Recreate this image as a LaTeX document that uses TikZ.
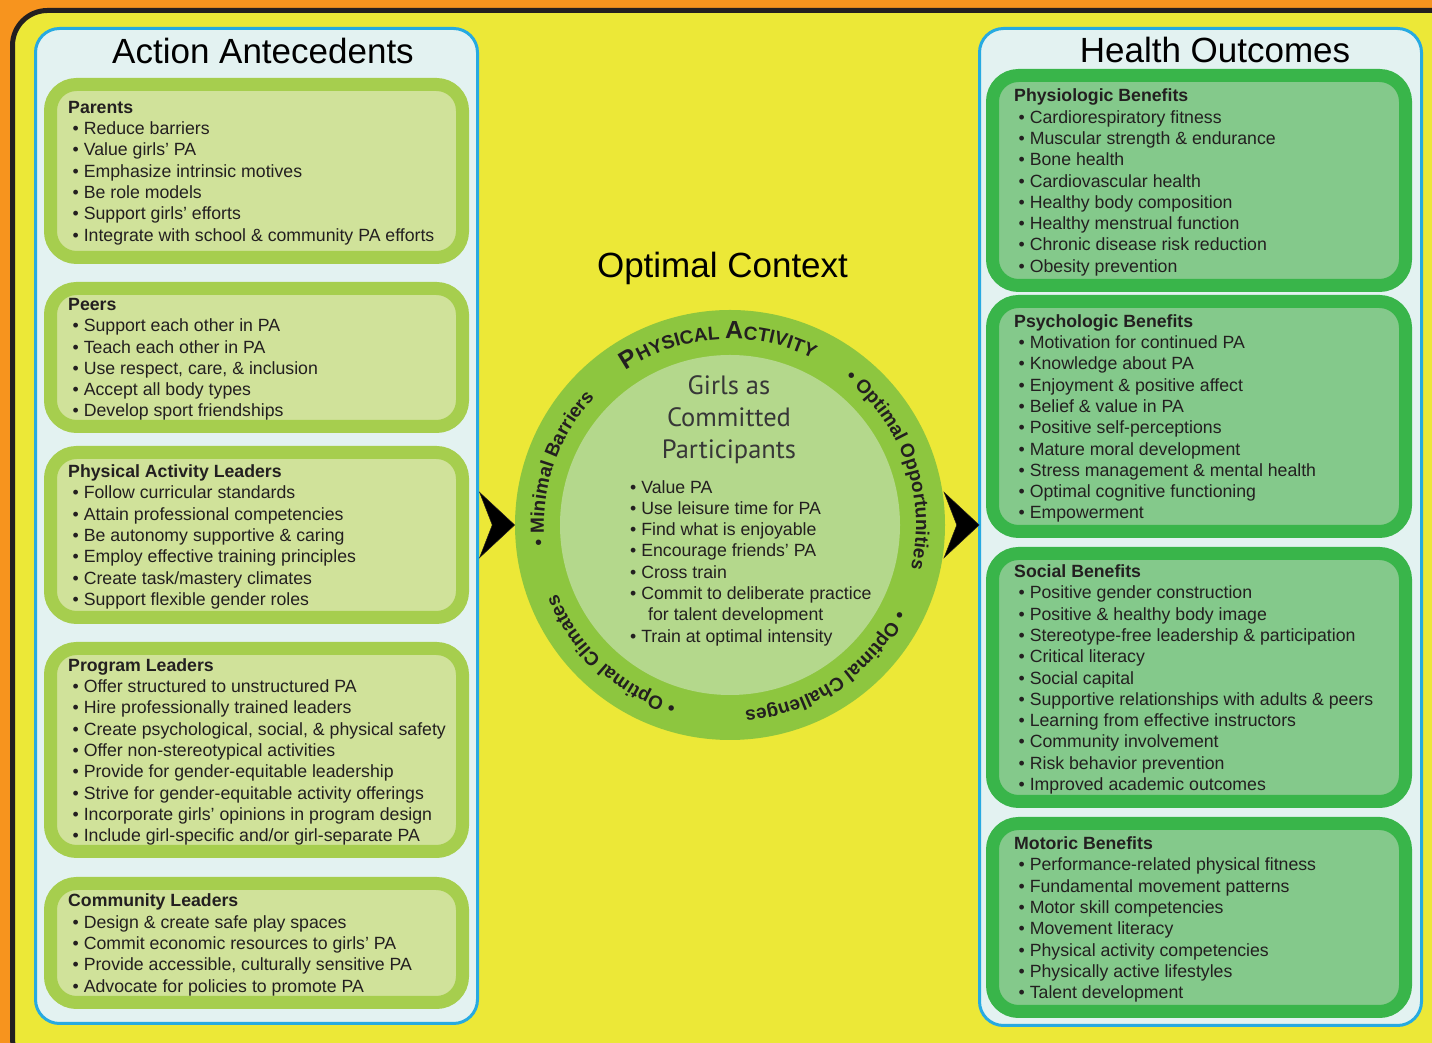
\documentclass[tikz,border=0pt]{standalone}
\usepackage{fontspec}
\setmainfont{Liberation Sans}
\newfontfamily\girlsfont{PT Sans}
\usepackage{tikz}
\usetikzlibrary{positioning}
\usetikzlibrary{arrows.meta}
\usetikzlibrary{decorations.text}
\definecolor{bgorange}{RGB}{247,148,30}
\definecolor{bgyellow}{RGB}{236,232,55}
\definecolor{framedark}{RGB}{35,31,32}
\definecolor{panelfill}{RGB}{227,242,241}
\definecolor{panelline}{RGB}{39,170,225}
\definecolor{limeouter}{RGB}{166,206,78}
\definecolor{limeinner}{RGB}{208,226,154}
\definecolor{greenouter}{RGB}{57,181,74}
\definecolor{greeninner}{RGB}{132,201,139}
\definecolor{ringouter}{RGB}{141,198,63}
\definecolor{ringinner}{RGB}{180,216,140}
\definecolor{girlsgrey}{RGB}{55,55,55}
\newcommand{\bodyfont}{\fontsize{17.7}{21.3}\selectfont}
\newcommand{\ringfont}{\fontsize{19}{22}\selectfont\bfseries}
\newcommand{\ringbig}{\fontsize{25}{28}\selectfont\bfseries}
\newcommand{\itm}{\hspace*{4.5pt}•\ }
\tikzset{
  panel/.style={draw=panelline, line width=3pt, fill=panelfill, rounded corners=24pt, inner sep=0pt, outer sep=0pt},
  antebox/.style={draw=limeouter, fill=limeinner, line width=13pt, rounded corners=26pt, minimum width=412pt, inner sep=0pt, outer sep=0pt},
  outbox/.style={antebox, draw=greenouter, fill=greeninner, minimum width=413pt},
  boxtext/.style={anchor=west, yshift=-2pt, align=left, inner sep=0pt, font=\bodyfont, text=framedark},
  antetext/.style={boxtext, xshift=17.5pt},
  outtext/.style={boxtext, xshift=21.5pt},
  heading/.style={font=\fontsize{35}{40}\selectfont, text=black, anchor=base},
  chevron/.style={-{Stealth[length=36pt, width=67pt, inset=13pt]}, draw=framedark, line width=0.5pt, shorten <=20pt},
  ringtext/.style={decorate, decoration={text along path, text align=center, text format delimiters={|}{|}, text color=framedark, #1}}
}
\begin{document}
\begin{tikzpicture}[x=1pt, y=1pt]
  \useasboundingbox (0,0) rectangle (1432,1043);
  \clip (0,0) rectangle (1432,1043);
  \fill[bgorange] (0,0) rectangle (1432,1043);
  \draw[framedark, line width=5pt, fill=bgyellow, rounded corners=35pt] (12.5,1032.5) rectangle (1470,-30);

  \node[panel, minimum width=442pt, minimum height=995pt] (ante) at (256.5,517) {};
  \node[panel, minimum width=442pt, minimum height=997pt] (outc) at (1200.5,516) {};
  \node[heading] (antetitle) at (263,979) {Action Antecedents};
  \node[heading] (outctitle) at (1215,980) {Health Outcomes};
  \node[heading] (ctxtitle) at (722.5,765) {Optimal Context};

  \node[antebox, minimum height=173pt] (parents) at (256.5,872) {};
  \node[antebox, minimum height=138pt, below=31pt of parents] (peers) {};
  \node[antebox, minimum height=165pt, below=26pt of peers] (paleaders) {};
  \node[antebox, minimum height=203pt, below=31pt of paleaders] (progleaders) {};
  \node[antebox, minimum height=119pt, below=32pt of progleaders] (commleaders) {};

  \node[antetext] at (parents.west) {\textbf{Parents}\\
    \itm Reduce barriers\\
    \itm Value girls’ PA\\
    \itm Emphasize intrinsic motives\\
    \itm Be role models\\
    \itm Support girls’ efforts\\
    \itm Integrate with school \& community PA efforts};
  \node[antetext] at (peers.west) {\textbf{Peers}\\
    \itm Support each other in PA\\
    \itm Teach each other in PA\\
    \itm Use respect, care, \& inclusion\\
    \itm Accept all body types\\
    \itm Develop sport friendships};
  \node[antetext] at (paleaders.west) {\textbf{Physical Activity Leaders}\\
    \itm Follow curricular standards\\
    \itm Attain professional competencies\\
    \itm Be autonomy supportive \& caring\\
    \itm Employ effective training principles\\
    \itm Create task/mastery climates\\
    \itm Support flexible gender roles};
  \node[antetext] at (progleaders.west) {\textbf{Program Leaders}\\
    \itm Offer structured to unstructured PA\\
    \itm Hire professionally trained leaders\\
    \itm Create psychological, social, \& physical safety\\
    \itm Offer non-stereotypical activities\\
    \itm Provide for gender-equitable leadership\\
    \itm Strive for gender-equitable activity offerings\\
    \itm Incorporate girls’ opinions in program design\\
    \itm Include girl-specific and/or girl-separate PA};
  \node[antetext] at (commleaders.west) {\textbf{Community Leaders}\\
    \itm Design \& create safe play spaces\\
    \itm Commit economic resources to girls’ PA\\
    \itm Provide accessible, culturally sensitive PA\\
    \itm Advocate for policies to promote PA};

  \node[outbox, minimum height=210pt] (physio) at (1199,862.5) {};
  \node[outbox, minimum height=230pt, below=16pt of physio] (psycho) {};
  \node[outbox, minimum height=248pt, below=22pt of psycho] (social) {};
  \node[outbox, minimum height=188pt, below=22pt of social] (motoric) {};

  \node[outtext] at (physio.west) {\textbf{Physiologic Benefits}\\
    \itm Cardiorespiratory fitness\\
    \itm Muscular strength \& endurance\\
    \itm Bone health\\
    \itm Cardiovascular health\\
    \itm Healthy body composition\\
    \itm Healthy menstrual function\\
    \itm Chronic disease risk reduction\\
    \itm Obesity prevention};
  \node[outtext] at (psycho.west) {\textbf{Psychologic Benefits}\\
    \itm Motivation for continued PA\\
    \itm Knowledge about PA\\
    \itm Enjoyment \& positive affect\\
    \itm Belief \& value in PA\\
    \itm Positive self-perceptions\\
    \itm Mature moral development\\
    \itm Stress management \& mental health\\
    \itm Optimal cognitive functioning\\
    \itm Empowerment};
  \node[outtext] at (social.west) {\textbf{Social Benefits}\\
    \itm Positive gender construction\\
    \itm Positive \& healthy body image\\
    \itm Stereotype-free leadership \& participation\\
    \itm Critical literacy\\
    \itm Social capital\\
    \itm Supportive relationships with adults \& peers\\
    \itm Learning from effective instructors\\
    \itm Community involvement\\
    \itm Risk behavior prevention\\
    \itm Improved academic outcomes};
  \node[outtext] at (motoric.west) {\textbf{Motoric Benefits}\\
    \itm Performance-related physical fitness\\
    \itm Fundamental movement patterns\\
    \itm Motor skill competencies\\
    \itm Movement literacy\\
    \itm Physical activity competencies\\
    \itm Physically active lifestyles\\
    \itm Talent development};

  \node[circle, fill=ringouter, minimum size=430pt, inner sep=0pt, outer sep=0pt] (ring) at (730,518) {};
  \node[circle, fill=ringinner, minimum size=340pt, inner sep=0pt] (core) at (ring.center) {};
  \node[font=\girlsfont\fontsize{26.5}{32}\selectfont, text=girlsgrey, align=center] (girls) at (729,623) {Girls as\\Committed\\Participants};
  \node[font=\bodyfont, text=framedark, align=left, anchor=west, inner sep=0pt] (commit) at (630,480) {•\ Value PA\\
    •\ Use leisure time for PA\\
    •\ Find what is enjoyable\\
    •\ Encourage friends’ PA\\
    •\ Cross train\\
    •\ Commit to deliberate practice\\
    \hspace*{18pt}for talent development\\
    •\ Train at optimal intensity};

  \path[ringtext={text={|\ringfont|• Minimal Barriers}}] (ring.center) ++(206.5:186) arc[start angle=206.5, end angle=116.5, radius=186];
  \path[ringtext={text={|\ringbig|P|\ringfont|HYSICAL |\ringbig|A|\ringfont|CTIVITY}}] (ring.center) ++(138.75:186) arc[start angle=138.75, end angle=48.75, radius=186];
  \path[ringtext={text={|\ringfont|• Optimal Opportunities}}] (ring.center) ++(64.2:186) arc[start angle=64.2, end angle=-25.8, radius=186];
  \path[ringtext={text={|\ringfont|• Optimal Challenges}}] (ring.center) ++(-11.25:186) arc[start angle=-11.25, end angle=-101.25, radius=186];
  \path[ringtext={text={|\ringfont|• Optimal Climates}}] (ring.center) ++(-87.5:186) arc[start angle=-87.5, end angle=-177.5, radius=186];

  \draw[chevron] (ante.east |- ring.center) -- (ring.west);
  \draw[chevron] (ring.east) -- (ring.east -| outc.west);
\end{tikzpicture}
\end{document}
